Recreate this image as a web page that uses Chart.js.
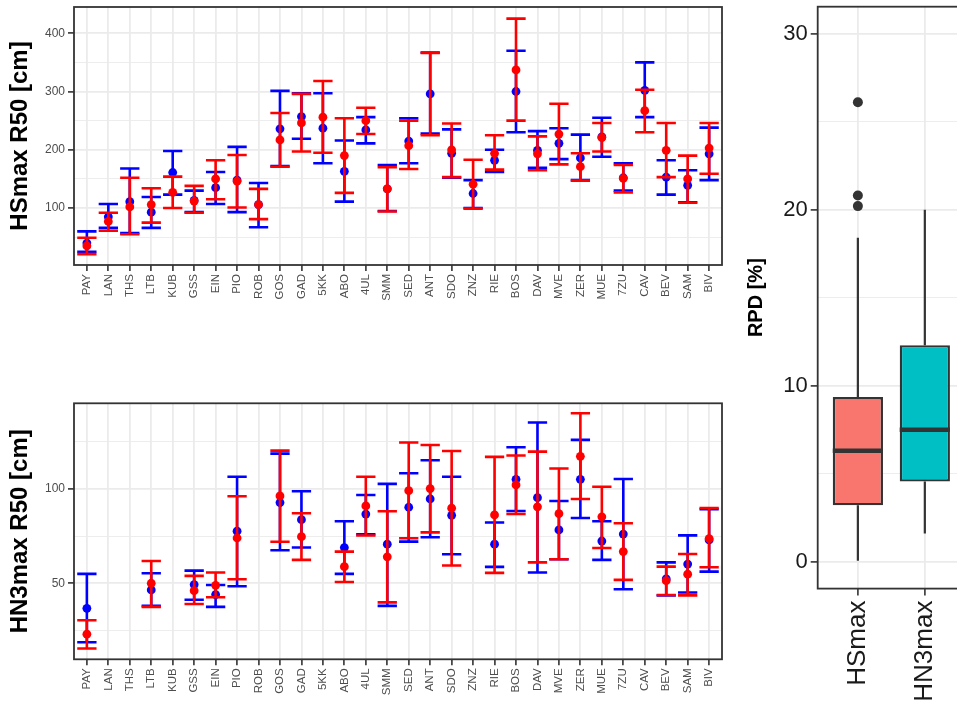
<!DOCTYPE html>
<html>
<head>
<meta charset="utf-8">
<script src="https://cdn.jsdelivr.net/npm/chart.js@4.4.0/dist/chart.umd.min.js"></script>
<style>
html, body { margin: 0; padding: 0; background: #fff; overflow: hidden; width: 957px; height: 702px; }
canvas { position: absolute; }
#hs { left: 0; top: 0; }
#hn { left: 0; top: 340px; }
#box { left: 730px; top: 0; }
</style>
</head>
<body>
<canvas id="hs" width="730" height="340"></canvas>
<canvas id="hn" width="730" height="362"></canvas>
<canvas id="box" width="240" height="702"></canvas>
<script>
const stations = ['PAY', 'LAN', 'THS', 'LTB', 'KUB', 'GSS', 'EIN', 'PIO', 'ROB', 'GOS', 'GAD', '5KK', 'ABO', '4UL', 'SMM',
    'SED', 'ANT', 'SDO', 'ZNZ', 'RIE', 'BOS', 'DAV', 'MVE', 'ZER', 'MUE', '7ZU', 'CAV', 'BEV', 'SAM', 'BIV'];

// HSmax R50, blue series
const hsBlueMid = [40, 85, 111, 93, 161, 113, 135, 148, 106, 236, 257, 237, 163, 234, 133,
    215, 296, 194, 125, 182, 300, 199, 211, 186, 222, 152, 302, 153, 139, 193];
const hsBlueLo = [25, 66, 57, 66, 123, 93, 107, 93, 67, 172, 219, 177, 111, 211, 95,
    177, 228, 152, 100, 162, 230, 169, 184, 148, 188, 130, 256, 123, 110, 148];
const hsBlueHi = [60, 107, 168, 119, 198, 130, 162, 205, 143, 301, 297, 297, 216, 256, 174,
    254, 367, 235, 148, 200, 370, 232, 237, 226, 255, 177, 350, 182, 165, 238];
// HSmax R50, red series
const hsRedMid = [35, 77, 102, 106, 127, 112, 150, 146, 106, 217, 246, 256, 190, 250, 133,
    207, null, 200, 141, 194, 337, 193, 227, 171, 221, 151, 267, 199, 150, 203];
const hsRedLo = [21, 61, 55, 75, 100, 92, 115, 101, 81, 171, 197, 195, 126, 227, 94,
    167, 225, 153, 99, 166, 250, 165, 175, 147, 197, 127, 230, 153, 109, 159];
const hsRedHi = [49, 92, 152, 134, 154, 138, 182, 191, 133, 263, 296, 318, 254, 272, 170,
    250, 366, 245, 183, 225, 425, 223, 279, 194, 246, 174, 303, 246, 190, 246];

// HN3max R50, blue series
const hnBlueMid = [36.7, null, null, 46.5, null, 49.3, 44, 77.6, null, 92.8, 83.7, null, 68.9, 86.7, 70.7,
    90.3, 94.7, 86, null, 70.7, 105.1, 95.4, 78.3, 105.1, 72.4, 76.1, null, 52.3, 60.2, 73];
const hnBlueLo = [18.7, null, null, 38, null, 41.3, 37.5, 48.4, null, 67.5, 69, null, 55, 76, 38,
    72.1, 74.4, 65.4, null, 58.7, 88.3, 55.7, 62.7, 84.6, 62.4, 46.8, null, 43.5, 45.1, 56.2];
const hnBlueHi = [55, null, null, 55.3, null, 56.7, 49.1, 106.5, null, 118.7, 98.8, null, 82.9, 96.8, 102.7,
    108.3, 115.2, 106.5, null, 82.2, 122.1, 135.2, 93.6, 126, 82.9, 105.3, null, 61.1, 75.4, 89.2];
// HN3max R50, red series
const hnRedMid = [23, null, null, 50, null, 46.1, 48.9, 74, null, 96.3, 74.7, null, 58.8, 91, 64,
    99.1, 100.2, 89.8, null, 86.2, 102.1, 90.5, 86.9, 117.3, 85.2, 66.8, null, 51.4, 54.8, 73.7];
const hnRedLo = [15.4, null, null, 37.5, null, 39, 42.6, 52.1, null, 72, 62.4, null, 50.7, 75.3, 39.9,
    73.9, 77, 59.4, null, 55.5, 86.7, 61.1, 62.7, 94.7, 68.7, 51.8, null, 43.8, 43.6, 58.5];
const hnRedHi = [30.4, null, null, 61.8, null, 53.9, 55.7, 96.1, null, 120.3, 87.1, null, 66.8, 106.5, 88.2,
    124.6, 123.3, 120.1, null, 117, 117.7, 119.8, 110.8, 140.1, 101.2, 81.8, null, 58.8, 65.5, 89.9];

// RPD boxplot
const boxCats = ['HSmax', 'HN3max'];
const boxQ1 = [3.2, 4.55];
const boxMedian = [6.3, 7.5];
const boxQ3 = [9.35, 12.3];
const boxWhiskLo = [0.05, 1.6];
const boxWhiskHi = [18.4, 20.0];
const boxOutlierCat = ['HSmax', 'HSmax', 'HSmax'];
const boxOutliers = [26.1, 20.8, 20.2];

// tick values
const hsMajorTicks = [100, 200, 300, 400];
const hsMinorTicks = [50, 150, 250, 350];
const hnMajorTicks = [50, 100];
const hnMinorTicks = [25, 75, 125];
const boxMajorTicks = [0, 10, 20, 30];
const boxMinorTicks = [5, 15, 25];

const FONT = "'Liberation Sans', Arial, sans-serif";
const GRID = '#EBEBEB';
const DARK = '#333333';
const CAP_HALF = 0.45;

const errorBars = {
    id: 'errorBars',
    beforeDatasetDraw(chart, args) {
        const ds = chart.data.datasets[args.index];
        if (!ds.errLo) return;
        const xs = chart.scales.x, ys = chart.scales.y, ctx = chart.ctx;
        ctx.save();
        ctx.strokeStyle = ds.backgroundColor;
        ctx.lineWidth = 2.6;
        ds.errLo.forEach((lo, i) => {
            const hi = ds.errHi[i];
            if (lo == null || hi == null) return;
            const xc = xs.getPixelForValue(i + 1);
            const x0 = xs.getPixelForValue(i + 1 - CAP_HALF);
            const x1 = xs.getPixelForValue(i + 1 + CAP_HALF);
            const y0 = ys.getPixelForValue(lo);
            const y1 = ys.getPixelForValue(hi);
            ctx.beginPath();
            ctx.moveTo(xc, y0); ctx.lineTo(xc, y1);
            ctx.moveTo(x0, y0); ctx.lineTo(x1, y0);
            ctx.moveTo(x0, y1); ctx.lineTo(x1, y1);
            ctx.stroke();
        });
        ctx.restore();
    }
};

const panelBorder = {
    id: 'panelBorder',
    afterDraw(chart) {
        const a = chart.chartArea, ctx = chart.ctx;
        ctx.save();
        ctx.strokeStyle = DARK;
        ctx.lineWidth = 1.8;
        ctx.strokeRect(a.left, a.top, a.right - a.left, a.bottom - a.top);
        ctx.restore();
    }
};

function fixSize(w, h) {
    return function (scale) {
        if (w != null) scale.width = w;
        if (h != null) scale.height = h;
        scale.paddingTop = 0; scale.paddingBottom = 0;
        scale.paddingLeft = 0; scale.paddingRight = 0;
    };
}

function yAxis(major, minor, min, max, title, width, opts) {
    return {
        type: 'linear', min: min, max: max,
        afterBuildTicks: s => { s.ticks = major.concat(minor).sort((a, b) => a - b).map(v => ({ value: v })); },
        afterFit: fixSize(width, null),
        border: { display: false },
        grid: {
            color: GRID,
            lineWidth: c => (c.tick && major.includes(c.tick.value)) ? 1.8 : 0.9,
            tickColor: c => (c.tick && major.includes(c.tick.value)) ? DARK : 'rgba(0,0,0,0)',
            tickWidth: 1.6,
            tickLength: opts.tickLength
        },
        ticks: {
            padding: opts.pad,
            color: opts.tickColor,
            font: { family: FONT, size: opts.tickSize },
            callback: v => major.includes(v) ? String(v) : ''
        },
        title: {
            display: true, text: title, color: '#000',
            font: { family: FONT, size: opts.titleSize, weight: 'bold' },
            padding: { top: opts.titlePad, bottom: 0 }
        }
    };
}

function xAxis(labels, height, opts) {
    return {
        type: 'linear', min: 0.4, max: labels.length + 0.6,
        offset: false,
        afterBuildTicks: s => { s.ticks = labels.map((l, i) => ({ value: i + 1 })); },
        afterFit: fixSize(null, height),
        border: { display: false },
        grid: { offset: false, color: GRID, lineWidth: 1.8, tickColor: DARK, tickWidth: 1.6, tickLength: opts.tickLength },
        ticks: {
            autoSkip: false, minRotation: 90, maxRotation: 90, padding: opts.pad,
            color: opts.tickColor,
            font: { family: FONT, size: opts.tickSize },
            callback: (v, i) => labels[i]
        }
    };
}

function pointSet(mid, lo, hi, color, order) {
    return {
        data: stations.map((s, i) => ({ x: i + 1, y: mid[i] })),
        errLo: lo, errHi: hi,
        backgroundColor: color, borderWidth: 0,
        pointRadius: 4.4, pointHoverRadius: 4.4,
        order: order
    };
}

function errPanel(id, blue, red, major, minor, min, max, title, padTop, xHeight) {
    return new Chart(document.getElementById(id), {
        type: 'scatter',
        data: {
            datasets: [
                pointSet(red[0], red[1], red[2], '#FF0000', 0),
                pointSet(blue[0], blue[1], blue[2], '#0000FF', 1)
            ]
        },
        options: {
            responsive: false,
            animation: false,
            devicePixelRatio: 1,
            layout: { padding: { top: padTop, right: 8, left: 0, bottom: 0 } },
            scales: {
                x: xAxis(stations, xHeight, { tickLength: 6, pad: 3, tickColor: '#4D4D4D', tickSize: 11.5 }),
                y: yAxis(major, minor, min, max, title, 74,
                    { tickLength: 6, pad: 3, tickColor: '#4D4D4D', tickSize: 12, titleSize: 24, titlePad: 6 })
            },
            plugins: { legend: { display: false }, tooltip: { enabled: false } }
        },
        plugins: [errorBars, panelBorder]
    });
}

errPanel('hs', [hsBlueMid, hsBlueLo, hsBlueHi], [hsRedMid, hsRedLo, hsRedHi],
    hsMajorTicks, hsMinorTicks, 2.3, 445, 'HSmax R50 [cm]', 7, 75);
errPanel('hn', [hnBlueMid, hnBlueLo, hnBlueHi], [hnRedMid, hnRedLo, hnRedHi],
    hnMajorTicks, hnMinorTicks, 9.7, 145.4, 'HN3max R50 [cm]', 63.3, 42.7);

const boxParts = {
    id: 'boxParts',
    beforeDatasetsDraw(chart) {
        const xs = chart.scales.x, ys = chart.scales.y, ctx = chart.ctx;
        ctx.save();
        ctx.strokeStyle = DARK;
        ctx.lineWidth = 2.2;
        boxCats.forEach((c, i) => {
            const x = xs.getPixelForValue(i + 1);
            ctx.beginPath();
            ctx.moveTo(x, ys.getPixelForValue(boxWhiskLo[i])); ctx.lineTo(x, ys.getPixelForValue(boxQ1[i]));
            ctx.moveTo(x, ys.getPixelForValue(boxQ3[i])); ctx.lineTo(x, ys.getPixelForValue(boxWhiskHi[i]));
            ctx.stroke();
        });
        ctx.restore();
    },
    afterDatasetsDraw(chart) {
        const ys = chart.scales.y, ctx = chart.ctx;
        const meta = chart.getDatasetMeta(0);
        ctx.save();
        ctx.strokeStyle = DARK;
        ctx.lineWidth = 4.5;
        meta.data.forEach((bar, i) => {
            const y = ys.getPixelForValue(boxMedian[i]);
            ctx.beginPath();
            ctx.moveTo(bar.x - bar.width / 2, y);
            ctx.lineTo(bar.x + bar.width / 2, y);
            ctx.stroke();
        });
        ctx.restore();
    }
};

new Chart(document.getElementById('box'), {
    type: 'bar',
    data: {
        datasets: [{
            type: 'bar',
            data: boxCats.map((c, i) => ({ x: i + 1, y: [boxQ1[i], boxQ3[i]] })),
            backgroundColor: ['#F8766D', '#00BFC4'],
            borderColor: DARK,
            borderWidth: 2.4,
            borderSkipped: false,
            categoryPercentage: 1,
            barPercentage: 0.75
        }, {
            type: 'scatter',
            data: boxOutliers.map((v, i) => ({ x: boxCats.indexOf(boxOutlierCat[i]) + 1, y: v })),
            backgroundColor: DARK,
            borderWidth: 0,
            pointRadius: 5, pointHoverRadius: 5
        }]
    },
    options: {
        responsive: false,
        animation: false,
        devicePixelRatio: 1,
        layout: { padding: { top: 6.7, right: 2.3, left: 0, bottom: 0 } },
        scales: {
            x: xAxis(boxCats, 113.4, { tickLength: 7, pad: 5, tickColor: '#1A1A1A', tickSize: 26 }),
            y: yAxis(boxMajorTicks, boxMinorTicks, -1.53, 31.53, 'RPD [%]', 87.7,
                { tickLength: 7, pad: 3, tickColor: '#1A1A1A', tickSize: 22, titleSize: 20, titlePad: 14 })
        },
        plugins: { legend: { display: false }, tooltip: { enabled: false } }
    },
    plugins: [boxParts, panelBorder]
});
</script>
</body>
</html>
